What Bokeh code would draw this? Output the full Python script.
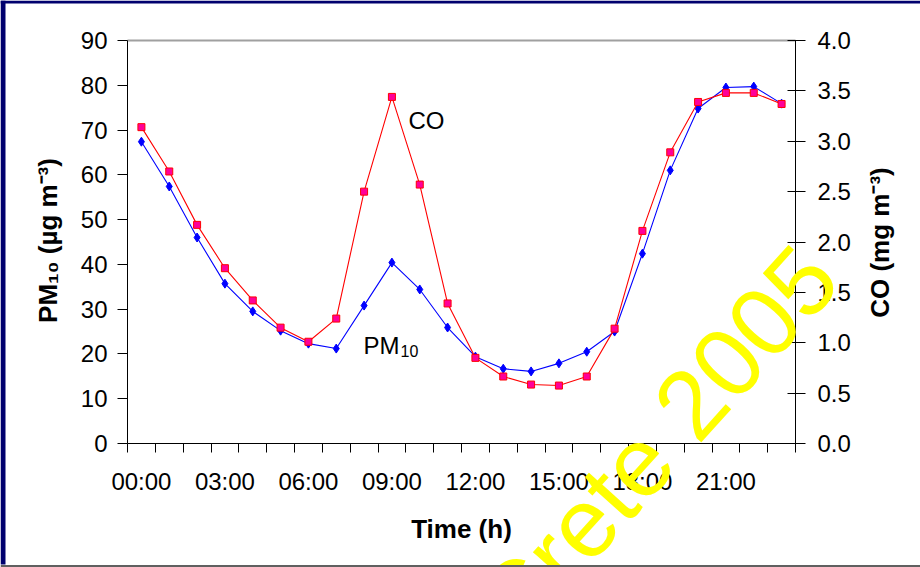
import math
from bokeh.plotting import figure
from bokeh.models import (LinearAxis, Range1d, FixedTicker, Label, BoxAnnotation,
                          NumeralTickFormatter)
from bokeh.embed import file_html
from bokeh.resources import INLINE

# ---------------- data ----------------
hours = [0, 1, 2, 3, 4, 5, 6, 7, 8, 9, 10, 11,
         12, 13, 14, 15, 16, 17, 18, 19, 20, 21, 22, 23]
pm10 = [67.4, 57.4, 46.0, 35.7, 29.5, 25.2, 22.3, 21.2, 30.8, 40.4, 34.4, 25.9,
        19.4, 16.7, 16.1, 17.9, 20.5, 25.0, 42.4, 61.0, 74.8, 79.5, 79.7, 75.9]
co = [3.14, 2.70, 2.17, 1.74, 1.42, 1.15, 1.01, 1.24, 2.50, 3.44, 2.57, 1.39,
      0.85, 0.665, 0.585, 0.575, 0.665, 1.14, 2.11, 2.89, 3.39, 3.48, 3.48, 3.37]
x_tick_hours = [0, 3, 6, 9, 12, 15, 18, 21]
x_tick_labels = ["00:00", "03:00", "06:00", "09:00", "12:00", "15:00", "18:00", "21:00"]
pm_ticks = [0, 10, 20, 30, 40, 50, 60, 70, 80, 90]
co_ticks = [0.0, 0.5, 1.0, 1.5, 2.0, 2.5, 3.0, 3.5, 4.0]

FONT = "Liberation Sans"
W, H = 920, 567

# plot box (pixels) inside the canvas; the frame covers the whole canvas so that
# annotations that spill over the axes are not clipped
BOX_L, BOX_R, BOX_T, BOX_B = 127, 795, 40, 443
X0, X1 = -0.5, 23.5
Y0, Y1 = 0.0, 90.0
C0, C1 = 0.0, 4.0
sx = (BOX_R - BOX_L) / (X1 - X0)
sy = (BOX_B - BOX_T) / (Y1 - Y0)
sc = (BOX_B - BOX_T) / (C1 - C0)

p = figure(width=W, height=H, output_backend="svg", toolbar_location=None,
           x_range=Range1d(X0 - BOX_L / sx, X1 + (W - BOX_R) / sx),
           y_range=Range1d(Y0 - (H - BOX_B) / sy, Y1 + BOX_T / sy),
           min_border=0, background_fill_color="white", border_fill_color="white")
p.extra_y_ranges = {"co": Range1d(C0 - (H - BOX_B) / sc, C1 + BOX_T / sc)}
p.grid.visible = False
p.outline_line_color = None

# x axis
xa = p.xaxis[0]
xa.fixed_location = Y0
xa.bounds = (X0, X1)
xa.ticker = FixedTicker(ticks=x_tick_hours,
                        minor_ticks=[h - 0.5 for h in hours] + [hours[-1] + 0.5])
xa.major_label_overrides = {h: l for h, l in zip(x_tick_hours, x_tick_labels)}
xa.major_tick_out = 0
xa.major_tick_in = 0
xa.minor_tick_out = 9
xa.minor_tick_in = 0
xa.minor_tick_line_color = "black"
xa.axis_line_color = "black"
xa.major_label_text_font = FONT
xa.major_label_text_font_size = "24px"
xa.major_label_text_color = "black"
xa.major_label_standoff = 15

# left axis
ya = p.yaxis[0]
ya.fixed_location = X0
ya.bounds = (Y0, Y1)
ya.ticker = FixedTicker(ticks=pm_ticks)
ya.minor_tick_line_color = None
ya.major_tick_out = 10
ya.major_tick_in = 0
ya.major_tick_line_color = "black"
ya.axis_line_color = "black"
ya.major_label_text_font = FONT
ya.major_label_text_font_size = "24px"
ya.major_label_text_color = "black"
ya.major_label_standoff = 10

# right axis
ra = LinearAxis(y_range_name="co", ticker=FixedTicker(ticks=co_ticks),
                formatter=NumeralTickFormatter(format="0.0"),
                fixed_location=X1, bounds=(C0, C1))
ra.minor_tick_line_color = None
ra.major_tick_out = 10
ra.major_tick_in = 8
ra.major_tick_line_color = "black"
ra.axis_line_color = "black"
ra.major_label_text_font = FONT
ra.major_label_text_font_size = "24px"
ra.major_label_text_color = "black"
ra.major_label_standoff = 12
p.add_layout(ra, "right")

# top border of the plot area
ta = LinearAxis(ticker=FixedTicker(ticks=[]), fixed_location=Y1, bounds=(X0, X1))
ta.axis_line_color = "#a0a0a0"
ta.axis_line_width = 2
ta.major_tick_line_color = None
ta.minor_tick_line_color = None
p.add_layout(ta, "above")

# series
p.line(hours, pm10, line_color="#0000ff", line_width=1.1)
p.scatter(hours, pm10, marker="diamond", size=9, fill_color="#0000ff",
          line_color="#0000ff")
p.line(hours, co, y_range_name="co", line_color="#ff0000", line_width=1.1)
p.scatter(hours, co, y_range_name="co", marker="square", size=7,
          fill_color="#ff0099", line_color="#ff0000", line_width=1)

def dx(px):
    return X0 + (px - BOX_L) / sx

def dy(py):
    return Y0 + (BOX_B - py) / sy

# inline series labels
p.add_layout(Label(x=dx(408), y=dy(120), text="CO", text_font=FONT,
                   text_font_size="24px", text_color="black", text_baseline="alphabetic"))
p.add_layout(Label(x=dx(363), y=dy(345), text="PM", text_font=FONT,
                   text_font_size="24px", text_color="black", text_baseline="alphabetic"))
p.add_layout(Label(x=dx(400), y=dy(350), text="10", text_font=FONT,
                   text_font_size="16px", text_color="black", text_baseline="alphabetic"))

# axis titles
p.add_layout(Label(x=dx(47), y=dy(240), text="PM₁₀ (µg m⁻³)", angle=math.pi / 2,
                   text_font=FONT, text_font_size="26px", text_font_style="bold",
                   text_align="center", text_baseline="middle", text_color="black"))
p.add_layout(Label(x=dx(879), y=dy(242), text="CO (mg m⁻³)", angle=math.pi / 2,
                   text_font=FONT, text_font_size="26px", text_font_style="bold",
                   text_align="center", text_baseline="middle", text_color="black"))
p.add_layout(Label(x=dx(461), y=dy(528), text="Time (h)",
                   text_font=FONT, text_font_size="26px", text_font_style="bold",
                   text_align="center", text_baseline="middle", text_color="black"))

# watermark
p.add_layout(Label(x=dx(656), y=dy(441), text="Crete 2005", angle=math.radians(48),
                   text_font=FONT, text_font_size="98px", text_color="#ffff00",
                   text_align="center", text_baseline="middle"))

# slide frame
for l, r, t, b, c in [(0, 5, 0, H - 3, "#00006e"), (0, W, 0, 3, "#00006e"),
                      (0, W, H - 2.5, H, "#606060")]:
    p.add_layout(BoxAnnotation(left=l, right=r, top=t, bottom=b,
                               left_units="canvas", right_units="canvas",
                               top_units="canvas", bottom_units="canvas",
                               fill_color=c, fill_alpha=1, line_color=None))

open("out.html", "w").write(file_html(p, INLINE))
